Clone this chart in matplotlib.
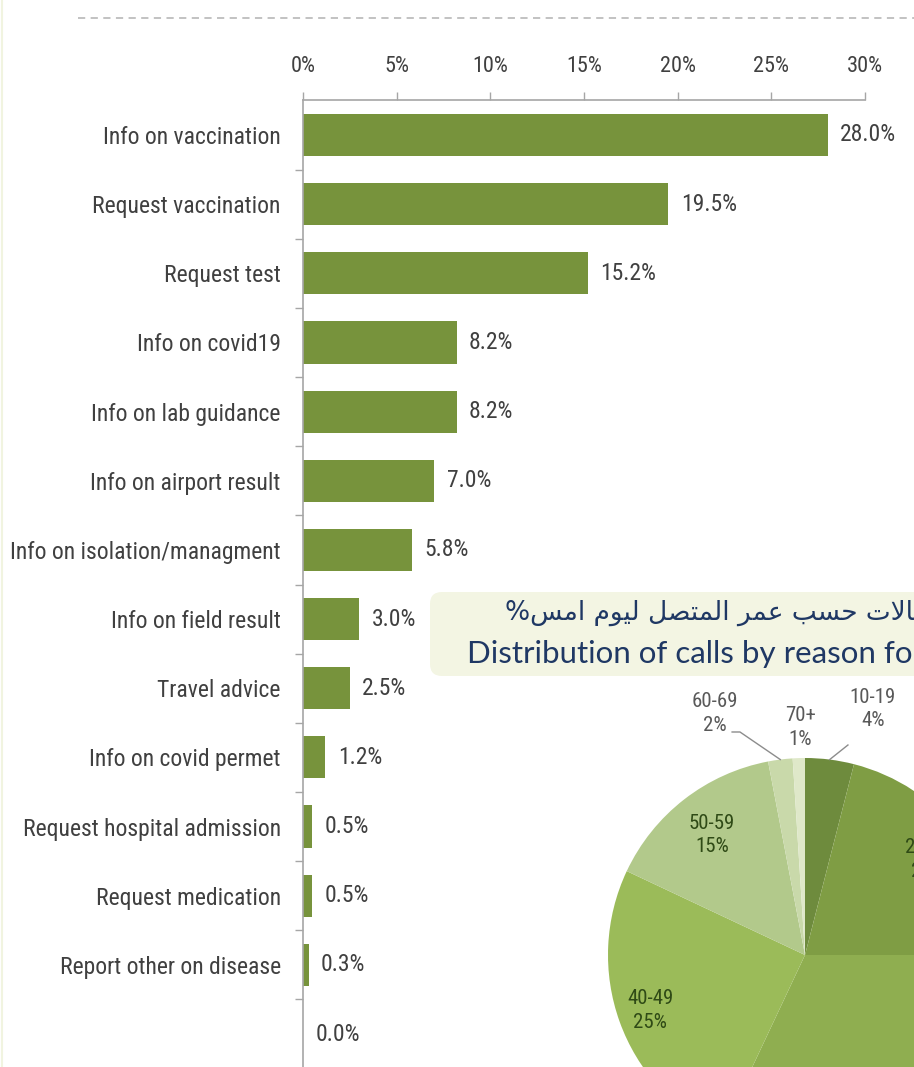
"""
Calls by reason (bar chart) with the age distribution pie partly visible
"""

import matplotlib
matplotlib.use('Agg')
import matplotlib.pyplot as plt
from matplotlib import font_manager
from matplotlib.patches import FancyBboxPatch
from matplotlib.lines import Line2D
import numpy as np


def pick_font(names):
    for n in names:
        try:
            font_manager.findfont(n, fallback_to_default=False)
            return n
        except ValueError:
            continue
    return 'DejaVu Sans'


narrow = pick_font(['Liberation Sans Narrow', 'Roboto Condensed', 'Liberation Sans'])
title_font = pick_font(['Lato', 'Open Sans', 'DejaVu Sans'])

# bar data
reasons = ['Info on vaccination', 'Request vaccination', 'Request test', 'Info on covid19',
           'Info on lab guidance', 'Info on airport result', 'Info on isolation/managment',
           'Info on field result', 'Travel advice', 'Info on covid permet',
           'Request hospital admission', 'Request medication', 'Report other on disease', '']
shares = [28.0, 19.5, 15.2, 8.2, 8.2, 7.0, 5.8, 3.0, 2.5, 1.2, 0.5, 0.5, 0.3, 0.0]
xticks = [0, 5, 10, 15, 20, 25, 30]

# pie data (clockwise from top)
ages = ['10-19', '20-29', '30-39', '40-49', '50-59', '60-69', '70+']
age_share = [4, 21, 32, 25, 15, 2, 1]
age_colors = ['#6e8b3d', '#7f9d44', '#8fae50', '#9bbb59', '#b2c98b', '#c9d9aa', '#dfe8c9']

arabic_title = 'توزيع الاتصالات حسب عمر المتصل ليوم امس%'
english_title = 'Distribution of calls by reason for calling yesterday'

# --- tiny arabic shaper (matplotlib has no bidi / shaping) ---
forms = {
    'ا': ('\uFE8D', '\uFE8E', None, None),
    'ب': ('\uFE8F', '\uFE90', '\uFE91', '\uFE92'),
    'ت': ('\uFE95', '\uFE96', '\uFE97', '\uFE98'),
    'ح': ('\uFEA1', '\uFEA2', '\uFEA3', '\uFEA4'),
    'ر': ('\uFEAD', '\uFEAE', None, None),
    'ز': ('\uFEAF', '\uFEB0', None, None),
    'س': ('\uFEB1', '\uFEB2', '\uFEB3', '\uFEB4'),
    'ص': ('\uFEB9', '\uFEBA', '\uFEBB', '\uFEBC'),
    'ع': ('\uFEC9', '\uFECA', '\uFECB', '\uFECC'),
    'ل': ('\uFEDD', '\uFEDE', '\uFEDF', '\uFEE0'),
    'م': ('\uFEE1', '\uFEE2', '\uFEE3', '\uFEE4'),
    'و': ('\uFEED', '\uFEEE', None, None),
    'ي': ('\uFEF1', '\uFEF2', '\uFEF3', '\uFEF4'),
    'LA': ('\uFEFB', '\uFEFC', None, None),
}


def shape(s):
    chars = []
    i = 0
    while i < len(s):
        if s[i] == 'ل' and i + 1 < len(s) and s[i + 1] == 'ا':
            chars.append('LA')
            i += 2
        else:
            chars.append(s[i])
            i += 1
    out = []
    for k, c in enumerate(chars):
        if c not in forms:
            out.append(c)
            continue
        prev = chars[k - 1] if k > 0 else None
        nxt = chars[k + 1] if k + 1 < len(chars) else None
        jp = prev in forms and forms[prev][2] is not None
        jn = nxt in forms and forms[c][2] is not None
        iso, fin, ini, med = forms[c]
        if jp and jn:
            out.append(med)
        elif jp:
            out.append(fin)
        elif jn:
            out.append(ini)
        else:
            out.append(iso)
    return ''.join(out)[::-1]


W, H = 914, 1067
fig = plt.figure(figsize=(W / 100, H / 100), dpi=100)

grey = '#404040'
axis_grey = '#a6a6a6'

# bar chart
ax = fig.add_axes([303 / W, 1 - 1068.6 / H, 562 / W, 968.2 / H])
ax.set_facecolor('none')
y = np.arange(len(reasons))
bars = ax.barh(y, shares, height=0.61, color='#77933c')
ax.set_xlim(0, 30)
ax.set_ylim(len(reasons) - 0.5, -0.5)
ax.xaxis.tick_top()
ax.set_xticks(xticks)
ax.set_xticklabels([f'{t}%' for t in xticks])
ax.tick_params(axis='x', direction='out', length=6, width=1, color=axis_grey, pad=11,
               labelsize=16, labelcolor=grey)
ax.set_yticks(y)
ax.set_yticklabels(reasons)
ax.set_yticks(y + 0.5, minor=True)
ax.tick_params(axis='y', which='major', length=0, pad=16, labelsize=17, labelcolor=grey)
ax.tick_params(axis='y', which='minor', length=6, width=1, color=axis_grey)
for lab in ax.get_xticklabels() + ax.get_yticklabels():
    lab.set_family(narrow)
for s in ['right', 'bottom']:
    ax.spines[s].set_visible(False)
for s in ['top', 'left']:
    ax.spines[s].set_color(axis_grey)
    ax.spines[s].set_linewidth(1.2)
for b, v in zip(bars, shares):
    ax.annotate(f'{v:.1f}%', (v, b.get_y() + b.get_height() / 2), xytext=(9, 0),
                textcoords='offset points', va='center', ha='left',
                fontsize=17, color=grey, family=narrow)

# dashed separator and left border
fig.add_artist(Line2D([78 / W, 1], [1 - 18 / H] * 2, transform=fig.transFigure,
                      color='#bdbdbd', lw=1.3, ls=(0, (4, 3))))
fig.add_artist(Line2D([2 / W] * 2, [0, 1], transform=fig.transFigure,
                      color='#f1f4e0', lw=1.5))

# title box of the pie
box = FancyBboxPatch((4.30, (H - 676) / 100), 6.0, 0.84,
                     boxstyle='round,pad=0,rounding_size=0.12',
                     transform=fig.dpi_scale_trans, facecolor='#f3f5e3', edgecolor='none')
fig.add_artist(box)
fig.text(505 / W, 1 - 613 / H, shape(arabic_title), family='DejaVu Sans', fontsize=19,
         color='#1f3864', ha='left', va='center')
fig.text(467 / W, 1 - 654 / H, english_title, family=title_font, fontsize=22.5,
         color='#1f3864', ha='left', va='center')

# pie chart
cx, cy, r = 805, 955, 197
pax = fig.add_axes([(cx - r) / W, 1 - (cy + r) / H, 2 * r / W, 2 * r / H])
pax.set_zorder(3)
pax.set_facecolor('none')
wedges, _ = pax.pie(age_share, colors=age_colors, startangle=90, counterclock=False,
                    wedgeprops=dict(linewidth=0))
pax.set_xlim(-1, 1)
pax.set_ylim(-1, 1)
pax.axis('off')

inside_r = {'20-29': 0.79, '30-39': 0.88, '40-49': 0.835, '50-59': 0.77}
outside = {'10-19': (0.345, 1.249), '60-69': (-0.457, 1.226), '70+': (-0.025, 1.155)}
for w, name, v in zip(wedges, ages, age_share):
    ang = np.deg2rad((w.theta1 + w.theta2) / 2)
    txt = f'{name}\n{v}%'
    if name in inside_r:
        rr = inside_r[name]
        pax.text(rr * np.cos(ang), rr * np.sin(ang), txt, ha='center', va='center',
                 fontsize=15, color='#2f4a16', family=narrow, linespacing=1.3,
                 clip_on=False)
    else:
        tx, ty = outside[name]
        pax.text(tx, ty, txt, ha='center', va='center', fontsize=15, color='#595959',
                 family=narrow, linespacing=1.3, clip_on=False)
        if name != '70+':
            ex, ey = np.cos(ang), np.sin(ang)
            if name == '10-19':
                pts = [(ex, ey), (tx - 0.127, ty - 0.183)]
            else:
                pts = [(ex, ey), (tx + 0.127, ty - 0.094), (tx + 0.087, ty - 0.094)]
            xs, ys = zip(*pts)
            pax.plot(xs, ys, color='#8c8c8c', lw=1, clip_on=False)

fig.savefig('out.png', dpi=100)
